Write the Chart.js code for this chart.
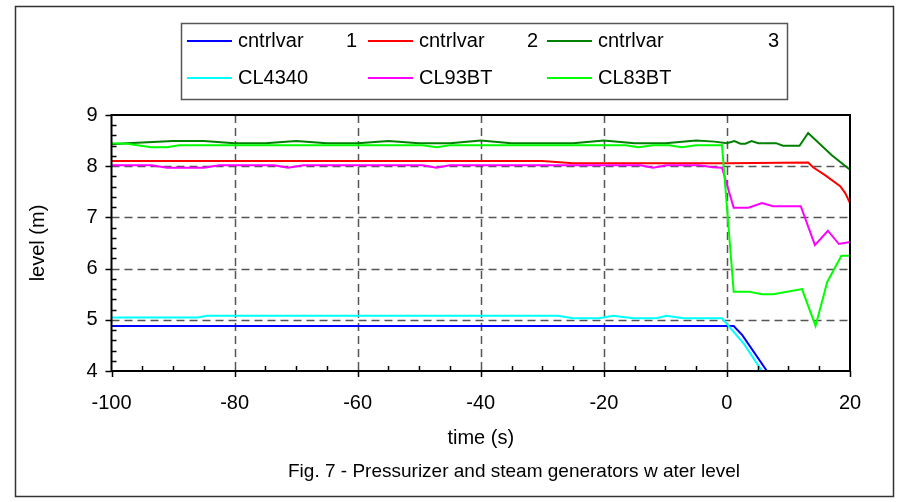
<!DOCTYPE html>
<html>
<head>
<meta charset="utf-8">
<script src="https://cdn.jsdelivr.net/npm/chart.js@4.4.1/dist/chart.umd.min.js"></script>
<style>
    html, body { margin: 0; padding: 0; background: #fff; }
    #wrap { width: 901px; height: 502px; }
</style>
</head>
<body>
<div id="wrap"><canvas id="levelChart" width="901" height="502"></canvas></div>
<script>
// series names and colours, in legend order
const seriesNames = ["cntrlvar 1", "cntrlvar 2", "cntrlvar 3", "CL4340", "CL93BT", "CL83BT"];
const seriesColors = ["#0000ff", "#ff0000", "#008000", "#00ffff", "#ff00ff", "#00ff00"];

// axis ranges (ticks every 20 s and every 1 m)
const timeRange = [-100, 20];
const levelRange = [4, 9];

// cntrlvar 1
const timeCv1 = [-100, 0, 1.1, 2.5, 6.5];
const levelCv1 = [4.88, 4.88, 4.88, 4.70, 4.0];

// cntrlvar 2
const timeCv2 = [-100, -30, -25, 0, 13.2, 14, 16, 18.4, 19.2, 20];
const levelCv2 = [8.10, 8.10, 8.06, 8.06, 8.07, 7.98, 7.82, 7.61, 7.48, 7.28];

// cntrlvar 3
const timeCv3 = [-100, -97.5, -90, -85, -80, -75, -70, -65, -60, -55, -50, -45, -40, -35, -30, -25, -20, -15, -10, -5, -2, 0, 1.2, 2.2, 3, 4, 5.1, 8, 9.1, 11.8, 13.2, 17, 20];
const levelCv3 = [8.43, 8.45, 8.49, 8.49, 8.45, 8.45, 8.49, 8.45, 8.45, 8.49, 8.45, 8.45, 8.50, 8.45, 8.45, 8.45, 8.50, 8.45, 8.45, 8.50, 8.48, 8.45, 8.49, 8.44, 8.44, 8.49, 8.45, 8.45, 8.40, 8.40, 8.65, 8.22, 7.93];

// CL4340
const timeCl4340 = [-100, -86, -84.5, -27.5, -25, -20.8, -18.5, -15.2, -11.5, -9.8, -7.1, -0.8, 2.7, 5.7];
const levelCl4340 = [5.045, 5.045, 5.08, 5.08, 5.03, 5.03, 5.08, 5.03, 5.03, 5.08, 5.03, 5.03, 4.54, 4.0];

// CL93BT
const timeCl93 = [-100, -93.5, -91, -85, -82.5, -73.6, -71.3, -68.8, -49.4, -47.2, -45, -14.1, -12, -9.8, -4.5, -2.3, -0.8, 1.1, 3.5, 5.7, 7.5, 12, 14.3, 16.4, 18.2, 20];
const levelCl93 = [8.02, 8.02, 7.97, 7.97, 8.02, 8.02, 7.97, 8.02, 8.02, 7.97, 8.02, 8.02, 7.97, 8.02, 8.02, 7.98, 7.97, 7.19, 7.19, 7.28, 7.22, 7.22, 6.46, 6.74, 6.48, 6.52];

// CL83BT
const timeCl83 = [-100, -97.5, -93.5, -91, -89, -49.5, -47.2, -45, -16.5, -14.4, -12, -9.5, -7.3, -5, -0.8, 1.1, 3.5, 5.7, 7.5, 12.2, 14.4, 16.3, 18.6, 20];
const levelCl83 = [8.45, 8.44, 8.37, 8.37, 8.41, 8.41, 8.37, 8.41, 8.41, 8.37, 8.41, 8.41, 8.37, 8.41, 8.41, 5.55, 5.55, 5.50, 5.50, 5.60, 4.88, 5.74, 6.25, 6.25];

const captionText = "Fig. 7 - Pressurizer and steam generators w ater level";

const seriesTimes = [timeCv1, timeCv2, timeCv3, timeCl4340, timeCl93, timeCl83];
const seriesLevels = [levelCv1, levelCv2, levelCv3, levelCl4340, levelCl93, levelCl83];

const FONT = '"Liberation Sans", Arial, sans-serif';
Chart.defaults.font.family = FONT;
Chart.defaults.color = "#000";

const datasets = seriesNames.map((name, i) => ({
    label: name,
    data: seriesTimes[i].map((t, k) => ({ x: t, y: seriesLevels[i][k] })),
    borderColor: seriesColors[i],
    backgroundColor: seriesColors[i],
    borderWidth: 2,
    pointRadius: 0,
    tension: 0,
    fill: false,
    order: seriesNames.length - i // later series on top, like the original
}));

// frame, dashed grid, tick marks, legend box and caption
const excelLook = {
    id: "excelLook",
    beforeDraw(chart) {
        const ctx = chart.ctx;
        ctx.save();
        ctx.fillStyle = "#fff";
        ctx.fillRect(0, 0, chart.width, chart.height);
        ctx.strokeStyle = "#333";
        ctx.lineWidth = 1.5;
        ctx.strokeRect(15.5, 6.5, 878, 490);
        ctx.restore();
    },
    beforeDatasetsDraw(chart) {
        const { ctx, chartArea: a, scales: { x, y } } = chart;
        ctx.save();
        ctx.strokeStyle = "#555";
        ctx.lineWidth = 1.5;
        ctx.setLineDash([8, 5]);
        for (let v = timeRange[0] + 20; v < timeRange[1]; v += 20) {
            const px = Math.round(x.getPixelForValue(v)) + 0.5;
            ctx.beginPath();
            ctx.moveTo(px, a.top);
            ctx.lineTo(px, a.bottom);
            ctx.stroke();
        }
        for (let v = levelRange[0] + 1; v < levelRange[1]; v++) {
            const py = Math.round(y.getPixelForValue(v)) + 0.5;
            ctx.beginPath();
            ctx.moveTo(a.left, py);
            ctx.lineTo(a.right, py);
            ctx.stroke();
        }
        ctx.restore();
    },
    afterDatasetsDraw(chart) {
        const { ctx, chartArea: a, scales: { x, y } } = chart;
        ctx.save();
        ctx.strokeStyle = "#000";
        ctx.lineWidth = 2;
        ctx.strokeRect(a.left, a.top, a.right - a.left, a.bottom - a.top);

        ctx.lineWidth = 1.5;
        ctx.beginPath();
        // x ticks: major outward, minor inward
        for (let v = timeRange[0]; v <= timeRange[1]; v += 5) {
            const px = Math.round(x.getPixelForValue(v)) + 0.5;
            if (v % 20 === 0) {
                ctx.moveTo(px, a.bottom);
                ctx.lineTo(px, a.bottom + 6);
            } else {
                ctx.moveTo(px, a.bottom);
                ctx.lineTo(px, a.bottom - 5);
            }
        }
        // y ticks
        for (let k = 0; k <= (levelRange[1] - levelRange[0]) * 5; k++) {
            const v = levelRange[0] + k * 0.2;
            const py = Math.round(y.getPixelForValue(v)) + 0.5;
            if (k % 5 === 0) {
                ctx.moveTo(a.left - 6, py);
                ctx.lineTo(a.left, py);
            } else {
                ctx.moveTo(a.left, py);
                ctx.lineTo(a.left + 5, py);
            }
        }
        ctx.stroke();

        // legend
        const box = { left: 181.5, top: 23.5, w: 606, h: 76 };
        ctx.strokeStyle = "#555";
        ctx.lineWidth = 1.5;
        ctx.strokeRect(box.left, box.top, box.w, box.h);
        const colX = [187, 368, 547];
        const numRight = [357, 538, 779];
        const rowY = [41, 78];
        ctx.font = "20px " + FONT;
        ctx.textBaseline = "middle";
        chart.data.datasets.forEach((ds, i) => {
            const col = i % 3, row = Math.floor(i / 3);
            ctx.strokeStyle = ds.borderColor;
            ctx.lineWidth = 2;
            ctx.beginPath();
            ctx.moveTo(colX[col], rowY[row]);
            ctx.lineTo(colX[col] + 45, rowY[row]);
            ctx.stroke();
            ctx.fillStyle = "#000";
            const m = ds.label.match(/^(.*) (\d+)$/);
            ctx.textAlign = "left";
            ctx.fillText(m ? m[1] : ds.label, colX[col] + 51, rowY[row]);
            if (m) {
                ctx.textAlign = "right";
                ctx.fillText(m[2], numRight[col], rowY[row]);
            }
        });

        // caption
        ctx.font = "19px " + FONT;
        ctx.textAlign = "center";
        ctx.fillStyle = "#000";
        ctx.fillText(captionText, 514, 472);
        ctx.restore();
    }
};

new Chart(document.getElementById("levelChart"), {
    type: "line",
    data: { datasets: datasets },
    options: {
        responsive: false,
        animation: false,
        events: [],
        layout: { padding: { left: 0, top: 115, right: 51, bottom: 0 } },
        plugins: {
            legend: { display: false },
            tooltip: { enabled: false }
        },
        scales: {
            x: {
                type: "linear",
                min: timeRange[0],
                max: timeRange[1],
                ticks: { stepSize: 20, font: { size: 20 }, padding: 20, maxRotation: 0 },
                grid: { display: false, drawTicks: false },
                border: { display: false },
                title: { display: true, text: "time (s)", font: { size: 20 }, padding: { top: 0, bottom: 52 } },
                afterFit: s => { s.height = 131; }
            },
            y: {
                type: "linear",
                min: levelRange[0],
                max: levelRange[1],
                ticks: { stepSize: 1, font: { size: 20 }, padding: 14 },
                grid: { display: false, drawTicks: false },
                border: { display: false },
                title: { display: true, text: "level (m)", font: { size: 20 }, padding: { top: 26, bottom: 0 } },
                afterFit: s => { s.width = 111.5; }
            }
        }
    },
    plugins: [excelLook]
});
</script>
</body>
</html>
